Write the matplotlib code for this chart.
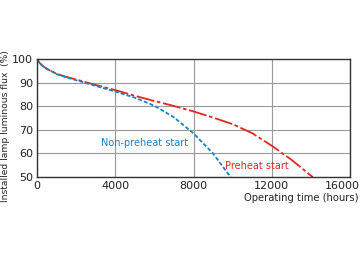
import matplotlib
matplotlib.use("Agg")
import matplotlib.pyplot as plt
from matplotlib.transforms import ScaledTranslation

common_x = [0, 100, 250, 500, 1000, 1500, 2000, 3000, 4000]
common_y = [100, 98.6, 97.3, 95.8, 93.6, 92.2, 91.0, 88.6, 86.2]

non_x = common_x + [5000, 6000, 7000, 8000, 9000, 9900]
non_y = common_y + [83.6, 80.2, 75.3, 68.5, 60.0, 50]

pre_x = common_x + [5000, 6000, 7000, 8000, 9000, 10000, 11000, 12000, 13000, 14100]
pre_y = [100, 98.6, 97.3, 95.8, 93.7, 92.4, 91.3, 89.0, 86.8] + [84.4, 82.2, 80.1, 77.8, 75.2, 72.4, 68.6, 63.3, 57.4, 50]

xticks = [0, 4000, 8000, 12000, 16000]
yticks = [50, 60, 70, 80, 90, 100]

fig = plt.figure(figsize=(3.6, 2.62), dpi=100)
ax = fig.add_axes([0.103, 0.324, 0.869, 0.451])

blue = "#1f7fc0"
red = "#e0281e"

ax.plot(pre_x, pre_y, color=red, lw=1.3, dashes=(10, 1.5, 2, 1.5))
ax.plot(non_x, non_y, color=blue, lw=1.3, dashes=(2.2, 1.2))

ax.set_xlim(0, 16000)
ax.set_ylim(50, 100)
ax.set_xticks(xticks)
ax.set_yticks(yticks)
ax.tick_params(length=0, labelsize=8, pad=3, colors="#222222")
ax.grid(True, color="#999999", lw=0.8)
ax.set_axisbelow(True)
for s in ax.spines.values():
    s.set_color("#333333")
    s.set_linewidth(1.0)

last = ax.get_xticklabels()[-1]
last.set_transform(last.get_transform() + ScaledTranslation(-0.08, 0, fig.dpi_scale_trans))

ax.text(7700, 64.5, "Non-preheat start", color=blue, fontsize=7, ha="right", va="center")
ax.text(9600, 54.7, "Preheat start", color=red, fontsize=7, ha="left", va="center")

fig.text(0.995, 0.243, "Operating time (hours)", ha="right", va="center", fontsize=7.2, color="#222222")
fig.text(0.014, 0.52, "Installed lamp luminous flux  (%)", rotation=90, ha="center", va="center", fontsize=6.6, color="#222222")

fig.savefig("out.png", dpi=100)
